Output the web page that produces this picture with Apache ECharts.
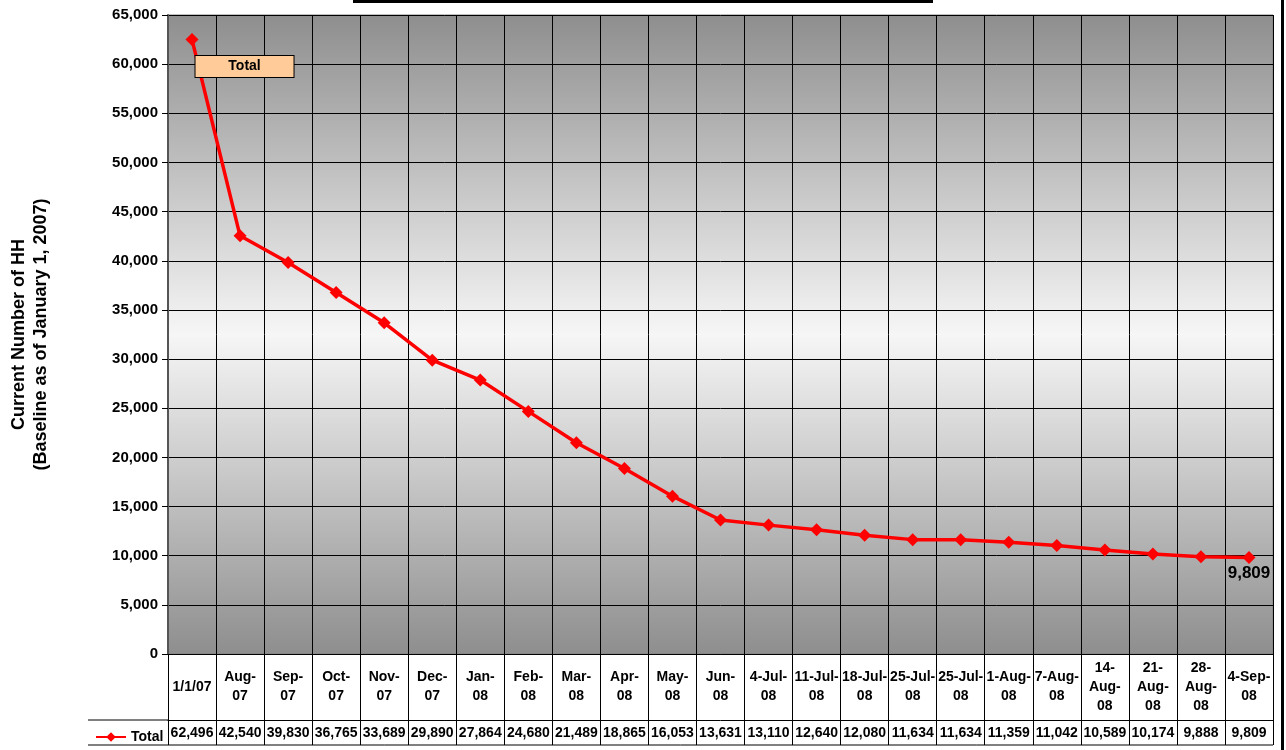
<!DOCTYPE html>
<html>
<head>
<meta charset="utf-8">
<script src="https://cdn.jsdelivr.net/npm/echarts@6/dist/echarts.min.js"></script>
<style>
  html, body { margin: 0; padding: 0; background: #fff; }
  #chart { width: 1286px; height: 750px; }
</style>
</head>
<body>
<div id="chart"></div>
<script>
// 类目（日期）
const categories = [
  '1/1/07', 'Aug-\n07', 'Sep-\n07', 'Oct-\n07', 'Nov-\n07', 'Dec-\n07',
  'Jan-\n08', 'Feb-\n08', 'Mar-\n08', 'Apr-\n08', 'May-\n08', 'Jun-\n08',
  '4-Jul-\n08', '11-Jul-\n08', '18-Jul-\n08', '25-Jul-\n08', '25-Jul-\n08',
  '1-Aug-\n08', '7-Aug-\n08', '14-\nAug-\n08', '21-\nAug-\n08', '28-\nAug-\n08', '4-Sep-\n08'
];
// Total 序列
const totals = [
  62496, 42540, 39830, 36765, 33689, 29890, 27864, 24680, 21489, 18865, 16053, 13631,
  13110, 12640, 12080, 11634, 11634, 11359, 11042, 10589, 10174, 9888, 9809
];
const yMin = 0;
const yMax = 65000;
const yStep = 5000;

const FONT = 'Liberation Sans';
const fmt = v => Number(v).toLocaleString('en-US');

const myChart = echarts.init(document.getElementById('chart'));

const seriesData = totals.map((v, i) => {
  if (i === 0) {
    return {
      value: v,
      label: {
        show: true,
        formatter: 'Total',
        position: [59, 23],
        align: 'center',
        verticalAlign: 'top',
        width: 90,
        padding: [3, 4],
        lineHeight: 15,
        backgroundColor: '#FFCC99',
        borderColor: '#000',
        borderWidth: 1,
        color: '#000',
        fontFamily: FONT,
        fontWeight: 'bold',
        fontSize: 14
      }
    };
  }
  if (i === totals.length - 1) {
    return {
      value: v,
      label: {
        show: true,
        formatter: p => fmt(p.value),
        position: 'bottom',
        distance: 1,
        color: '#000',
        fontFamily: FONT,
        fontWeight: 'bold',
        fontSize: 17
      }
    };
  }
  return v;
});

const option = {
  backgroundColor: '#fff',
  animation: false,
  grid: {
    left: 168, right: 13, top: 15, bottom: 96,
    outerBoundsMode: 'none',
    containLabel: false,
    show: true,
    borderColor: '#808080',
    borderWidth: 1,
    backgroundColor: new echarts.graphic.LinearGradient(0, 0, 0, 1, [
      { offset: 0, color: '#8e8e8e' },
      { offset: 0.5, color: '#f6f6f6' },
      { offset: 1, color: '#8e8e8e' }
    ])
  },
  legend: {
    data: ['Total'],
    left: 90, top: 725,
    itemWidth: 30, itemHeight: 12,
    itemGap: 3,
    textStyle: { fontFamily: FONT, fontWeight: 'bold', fontSize: 14, color: '#000' }
  },
  xAxis: [
    {
      type: 'category',
      data: categories,
      boundaryGap: true,
      axisLine: { show: true, lineStyle: { color: '#000', width: 1 } },
      axisTick: { show: true, interval: 0, length: 91, lineStyle: { color: '#000', width: 1 } },
      axisLabel: {
        interval: 0, margin: 33, verticalAlign: 'middle', lineHeight: 19,
        color: '#000', fontFamily: FONT, fontWeight: 'bold', fontSize: 14
      },
      splitLine: { show: true, interval: 0, lineStyle: { color: '#000', width: 1 } }
    },
    {
      type: 'category',
      data: totals.map(fmt),
      boundaryGap: true,
      position: 'bottom',
      offset: 66,
      axisLine: { show: true, lineStyle: { color: '#000', width: 1 } },
      axisTick: { show: false },
      axisLabel: {
        interval: 0, margin: 13, verticalAlign: 'middle',
        color: '#000', fontFamily: FONT, fontWeight: 'bold', fontSize: 14
      },
      splitLine: { show: false }
    }
  ],
  yAxis: {
    type: 'value',
    min: yMin, max: yMax, interval: yStep,
    name: 'Current Number of HH\n(Baseline as of January 1, 2007)',
    nameLocation: 'middle',
    nameGap: 116,
    nameTextStyle: { fontFamily: FONT, fontWeight: 'bold', fontSize: 18, lineHeight: 22, color: '#000' },
    axisLine: { show: true, lineStyle: { color: '#555', width: 2 } },
    axisTick: { show: true, length: 6, lineStyle: { color: '#000' } },
    axisLabel: {
      formatter: v => fmt(v), margin: 10,
      color: '#000', fontFamily: FONT, fontWeight: 'bold', fontSize: 15
    },
    splitLine: { show: true, lineStyle: { color: '#000', width: 1 } }
  },
  series: [
    {
      name: 'Total',
      type: 'line',
      xAxisIndex: 0,
      data: seriesData,
      symbol: 'diamond',
      symbolSize: 13,
      itemStyle: { color: '#ff0000' },
      lineStyle: { color: '#ff0000', width: 3.5 }
    }
  ],
  graphic: [
    // 顶部标题框残边
    { type: 'rect', shape: { x: 353, y: 0, width: 580, height: 3 }, style: { fill: '#000' } },
    // 右侧黑边
    { type: 'rect', shape: { x: 1281, y: 0, width: 3, height: 750 }, style: { fill: '#000' } },
    // 数据表边线
    { type: 'line', shape: { x1: 88, y1: 720, x2: 168, y2: 720 }, style: { stroke: '#000', lineWidth: 1 } },
    { type: 'line', shape: { x1: 88, y1: 745, x2: 1273, y2: 745 }, style: { stroke: '#000', lineWidth: 1 } }
  ]
};

myChart.setOption(option);
window.addEventListener('resize', () => myChart.resize());
</script>
</body>
</html>
